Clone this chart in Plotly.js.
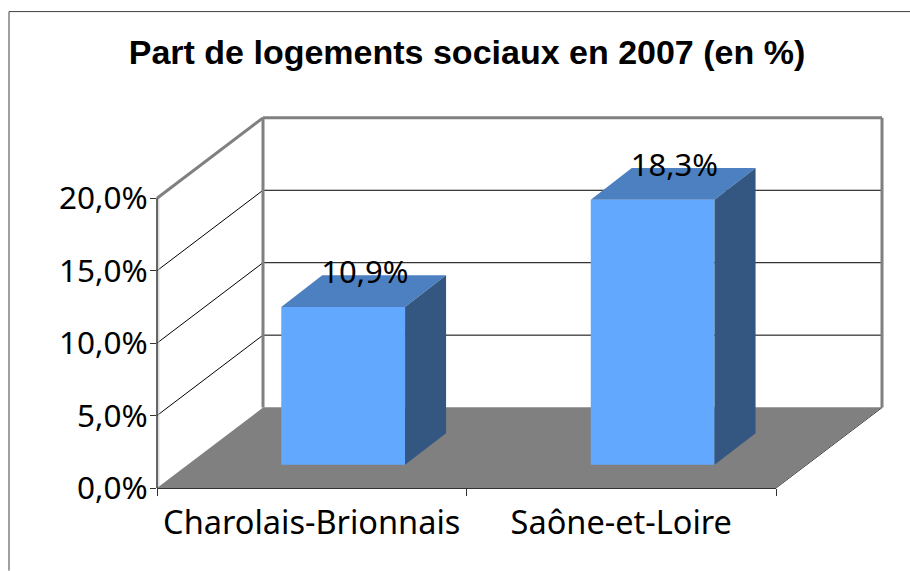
<!DOCTYPE html>
<html>
<head>
<meta charset="utf-8">
<script src="https://cdn.plot.ly/plotly-3.0.1.min.js"></script>
<style>html,body{margin:0;padding:0;background:#fff}</style>
</head>
<body>
<div id="chart" style="width:910px;height:571px"></div>
<script>
const categories = ["Charolais-Brionnais", "Saône-et-Loire"];
const values = [10.9, 18.3];
const valueLabels = ["10,9%", "18,3%"];
const yTicks = [0, 5, 10, 15, 20];
const yTickLabels = ["0,0%", "5,0%", "10,0%", "15,0%", "20,0%"];

// 3D projection, in axis units
const xTop = 724 / 309.5, yTop = 370.3 / 14.5;
const wallDx = 0.3425, wallDy = 5.55;
const barWidth = 0.4, barShift = 0.1015, barBase = 1.6;
const barDx = 0.1325, barDy = 2.18, labelLift = 2.2;
const catCount = categories.length, yMax = yTicks[yTicks.length - 1];
const centers = categories.map((_, i) => i + 0.5);
const GREY = "#808080", FONT = "Noto Sans, sans-serif";

const poly = (pts) => "M" + pts.map(p => p.join(",")).join("L") + "Z";
// lines use paper refs (computed from the axis units) so plot-edge lines are not clipped
const seg = (x0, y0, x1, y1, color, width) =>
  ({type: "line", xref: "paper", yref: "paper", layer: "below",
    x0: x0 / xTop, y0: y0 / yTop, x1: x1 / xTop, y1: y1 / yTop, line: {color, width}});

const shapes = [
  {type: "path", xref: "x", yref: "y", layer: "below",
   path: poly([[0,0],[catCount,0],[catCount+wallDx,wallDy],[wallDx,wallDy]]),
   fillcolor: GREY, line: {width: 0}}
];
yTicks.slice(1, -1).forEach(k => {
  shapes.push(seg(0, k, wallDx, wallDy + k, "#000", 1));
  shapes.push(seg(wallDx, wallDy + k, catCount + wallDx, wallDy + k, "#000", 1));
});
shapes.push(seg(wallDx, wallDy, catCount + wallDx, wallDy, "#BDBDBD", 1));
shapes.push(seg(0.006, 0, 0.006, yMax, "#C8C8C8", 1));
shapes.push(seg(wallDx, wallDy, wallDx, wallDy + yMax, GREY, 3));
shapes.push(seg(catCount + wallDx, wallDy, catCount + wallDx, wallDy + yMax, GREY, 3));
shapes.push(seg(wallDx, wallDy + yMax, catCount + wallDx, wallDy + yMax, GREY, 3));
shapes.push(seg(0, yMax, wallDx, wallDy + yMax, GREY, 3));
shapes.push(seg(catCount, 0, catCount + wallDx, wallDy, "#222", 1));
shapes.push(seg(0, 0, 0, yMax, "#333", 1.5));
shapes.push(seg(0, 0, catCount, 0, "#333", 2));
// outer frame: left and top edges
shapes.push({type:"line", xref:"paper", yref:"paper", x0:-148/724, x1:-148/724, y0:-82.7/370.3, y1:(118-11.5)/370.3+1, line:{color:"#404040", width:1}});
shapes.push({type:"line", xref:"paper", yref:"paper", x0:-148/724, x1:(910-157)/724, y0:(118-11.5)/370.3+1, y1:(118-11.5)/370.3+1, line:{color:"#404040", width:1}});

const barX = centers.map(c => c + barShift);
const traces = [{
  type: "bar", x: barX, y: values, base: values.map(() => barBase), width: barWidth,
  marker: {color: "#63A8FF", line: {width: 0}}, hoverinfo: "skip"
}];
values.forEach((v, i) => {
  const L = barX[i] - barWidth / 2, R = barX[i] + barWidth / 2, B = barBase, T = barBase + v;
  traces.push({type: "scatter", mode: "lines", fill: "toself", fillcolor: "#4C80C0", hoverinfo: "skip",
    line: {width: 0, color: "#4C80C0"},
    x: [L, R, R + barDx, L + barDx, L], y: [T, T, T + barDy, T + barDy, T]});
  traces.push({type: "scatter", mode: "lines", fill: "toself", fillcolor: "#335780", hoverinfo: "skip",
    line: {width: 0, color: "#335780"},
    x: [R, R + barDx, R + barDx, R, R], y: [B, B + barDy, T + barDy, T, B]});
});
traces.push({type: "scatter", mode: "text", hoverinfo: "skip",
  x: barX.map(x => x + barDx / 2 + 0.004), y: values.map(v => v + barBase + labelLift),
  text: valueLabels, textposition: "middle center", textfont: {family: FONT, size: 31, color: "#000"}});

Plotly.newPlot("chart", traces, {
  width: 910, height: 571, showlegend: false, barmode: "overlay",
  paper_bgcolor: "#fff", plot_bgcolor: "#fff",
  margin: {l: 157, r: 29, t: 118, b: 82.7, pad: 0},
  title: {text: "Part de logements sociaux en 2007 (en %)", xref: "container", yref: "container",
    x: 467 / 910, xanchor: "center", y: 1 - 52 / 571, yanchor: "middle",
    font: {family: "Liberation Sans, Arial, sans-serif", size: 34, color: "#000", weight: 700}},
  xaxis: {range: [0, xTop], tickmode: "array", tickvals: centers, ticktext: categories,
    ticks: "", showgrid: false, zeroline: false, showline: false, ticklabelstandoff: 12,
    tickfont: {family: FONT, size: 32.5, color: "#000"},
    minor: {tickmode: "array", tickvals: [0, 1, 2], ticks: "outside", ticklen: 7, tickcolor: "#333", tickwidth: 1, showgrid: false}},
  yaxis: {range: [0, yTop], tickmode: "array", tickvals: yTicks, ticktext: yTickLabels,
    ticks: "outside", ticklen: 6, tickcolor: "#333", tickwidth: 1, showgrid: false, zeroline: false, showline: false,
    ticklabelstandoff: -4, tickfont: {family: FONT, size: 31.5, color: "#000"}},
  shapes
}, {displayModeBar: false, staticPlot: true});
</script>
</body>
</html>
